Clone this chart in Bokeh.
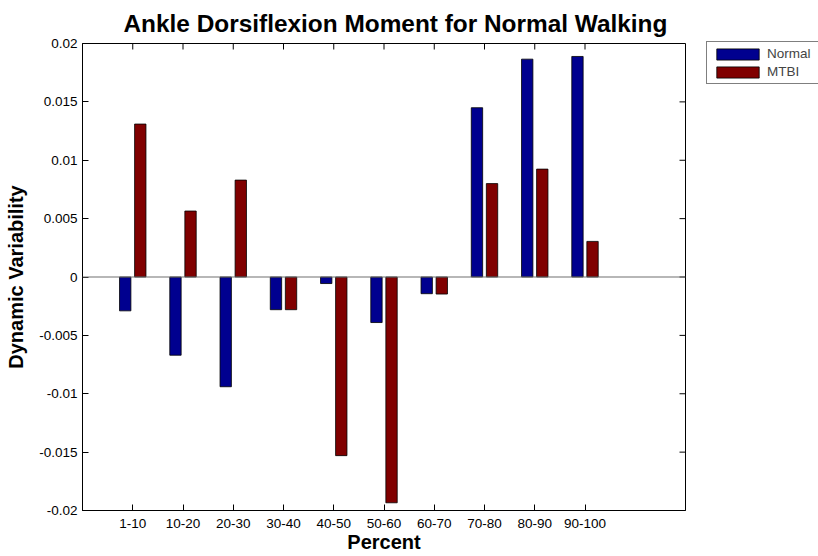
import math
from bokeh.plotting import figure
from bokeh.models import (FixedTicker, Span, Legend, LegendItem,
                          ColumnDataSource, Range1d)
from bokeh.transform import dodge
from bokeh.embed import file_html
from bokeh.resources import INLINE

categories = ["1-10", "10-20", "20-30", "30-40", "40-50",
              "50-60", "60-70", "70-80", "80-90", "90-100"]
normal = [-0.0029, -0.0067, -0.0094, -0.0028, -0.00056,
          -0.0039, -0.00143, 0.0145, 0.01866, 0.01889]
mtbi = [0.0131, 0.00565, 0.0083, -0.0028, -0.0153,
        -0.01934, -0.00146, 0.0080, 0.00924, 0.00305]
y_ticks = [-0.02, -0.015, -0.01, -0.005, 0, 0.005, 0.01, 0.015, 0.02]
y_tick_labels = ["-0.02", "-0.015", "-0.01", "-0.005", "0",
                 "0.005", "0.01", "0.015", "0.02"]
x_min, x_max = 0, 12
y_min, y_max = -0.02, 0.02

positions = list(range(1, len(categories) + 1))
src = ColumnDataSource(dict(pos=positions, normal=normal, mtbi=mtbi))

FONT = "Liberation Sans"

p = figure(frame_width=603, frame_height=467,
           x_range=Range1d(x_min, x_max), y_range=Range1d(y_min, y_max),
           output_backend="svg", toolbar_location=None,
           min_border_left=82, min_border_right=133,
           min_border_top=43, min_border_bottom=46,
           title="Ankle Dorsiflexion Moment for Normal Walking")

p.title.text_font = FONT
p.title.text_font_size = "24.4px"
p.title.text_font_style = "bold"
p.title.align = "left"
p.title.text_color = "black"
p.title.standoff = 14
p.title.offset = 41

p.background_fill_color = "white"
p.border_fill_color = "white"
p.outline_line_color = "black"
p.outline_line_width = 1
p.xgrid.visible = False
p.ygrid.visible = False

bottom_ax = p.below[0]
left_ax = p.left[0]

x_labels = {pos: lab for pos, lab in zip(positions, categories)}
y_labels = {t: lab for t, lab in zip(y_ticks, y_tick_labels)}

def style_axis(ax, ticks, labels):
    ax.ticker = FixedTicker(ticks=ticks)
    ax.major_tick_in = 6
    ax.major_tick_out = 0
    ax.minor_tick_in = 0
    ax.minor_tick_out = 0
    ax.axis_line_color = "black"
    ax.major_tick_line_color = "black"
    ax.major_label_text_font = FONT
    ax.major_label_text_color = "black"
    ax.major_label_text_font_size = "13.5px"
    ax.major_label_standoff = 5
    ax.major_label_overrides = labels

style_axis(bottom_ax, positions, x_labels)
style_axis(left_ax, y_ticks, y_labels)
bottom_ax.major_label_standoff = 8

bottom_ax.axis_label = "Percent"
left_ax.axis_label = "Dynamic Variability"
for ax in (bottom_ax, left_ax):
    ax.axis_label_text_font = FONT
    ax.axis_label_text_font_size = "20px"
    ax.axis_label_text_font_style = "bold"
    ax.axis_label_text_color = "black"
bottom_ax.axis_label_standoff = 0
left_ax.axis_label_standoff = 9

# mirrored inward ticks on the top and right edges of the box
p.ray(x=positions, y=[y_max] * len(positions), length=6,
      length_units="screen", angle=-math.pi / 2, line_color="black",
      line_width=1)
p.ray(x=[x_max] * len(y_ticks), y=y_ticks, length=6,
      length_units="screen", angle=math.pi, line_color="black",
      line_width=1)

r1 = p.vbar(x=dodge("pos", -0.15), top="normal", bottom=0, width=0.226,
            source=src, fill_color="#00008F", line_color="black",
            line_width=0.8)
r2 = p.vbar(x=dodge("pos", 0.15), top="mtbi", bottom=0, width=0.226,
            source=src, fill_color="#800000", line_color="black",
            line_width=0.8)

p.add_layout(Span(location=0, dimension="width", line_color="#707070",
                  line_width=1.2))

legend = Legend(items=[LegendItem(label="Normal", renderers=[r1]),
                       LegendItem(label="MTBI", renderers=[r2])],
                location=(21, 426), border_line_color="black",
                border_line_width=1, padding=4, spacing=3, margin=0,
                glyph_width=53, glyph_height=14, label_standoff=3,
                label_text_font=FONT, label_text_font_size="13.5px",
                label_width=48, background_fill_color="white",
                background_fill_alpha=1.0)
p.add_layout(legend, "right")

open("out.html", "w").write(file_html(p, INLINE))
